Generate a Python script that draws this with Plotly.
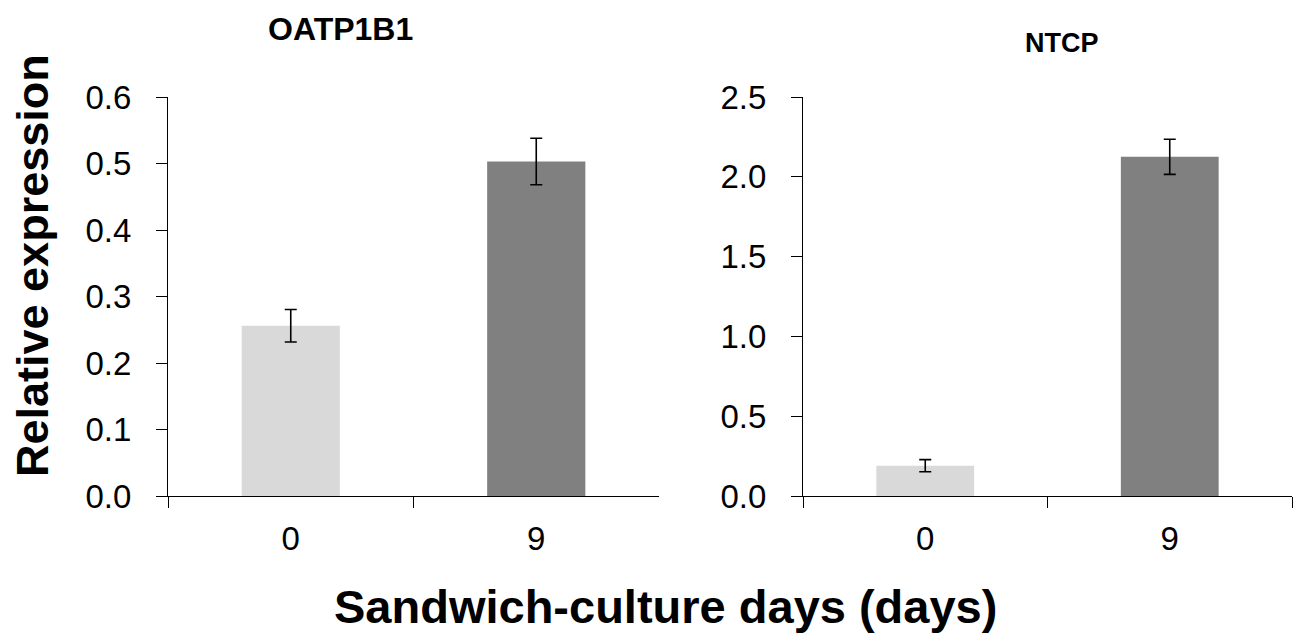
import plotly.graph_objects as go

categories = ["0", "9"]
oatp_values = [0.256, 0.503]
oatp_errors = [0.0245, 0.035]
ntcp_values = [0.19, 2.125]
ntcp_errors = [0.038, 0.11]
bar_colors = ["#d9d9d9", "#808080"]
oatp_ticks = [0.0, 0.1, 0.2, 0.3, 0.4, 0.5, 0.6]
ntcp_ticks = [0.0, 0.5, 1.0, 1.5, 2.0, 2.5]

W, H = 1303, 638
FONT = "Arial, Liberation Sans, sans-serif"

def px_x(x):
    return x / W

def px_y(y):
    return (H - y) / H

fig = go.Figure()
fig.add_trace(go.Bar(x=categories, y=oatp_values, marker=dict(color=bar_colors, line=dict(width=0)),
                     width=0.4, xaxis="x", yaxis="y",
                     error_y=dict(type="data", array=oatp_errors, color="black", thickness=1.6, width=6)))
fig.add_trace(go.Bar(x=categories, y=ntcp_values, marker=dict(color=bar_colors, line=dict(width=0)),
                     width=0.4, xaxis="x2", yaxis="y2",
                     error_y=dict(type="data", array=ntcp_errors, color="black", thickness=1.6, width=6)))

ydom = [px_y(496), px_y(97)]
common_x = dict(type="category", showline=True, linecolor="black", linewidth=1.3, ticks="outside",
                ticklen=11, tickcolor="black", tickwidth=1.3, tickson="boundaries", showgrid=False,
                zeroline=False, automargin=False,
                tickfont=dict(family=FONT, size=33, color="black"), ticklabelstandoff=13)
common_y = dict(showline=True, linecolor="black", linewidth=1.3, ticks="outside", ticklen=11,
                tickcolor="black", tickwidth=1.3, showgrid=False, zeroline=False, tickformat=".1f",
                automargin=False,
                tickfont=dict(family=FONT, size=33, color="black"), ticklabelstandoff=18)

fig.update_layout(
    template="none",
    width=W, height=H, margin=dict(l=0, r=0, t=0, b=0, autoexpand=False), showlegend=False,
    plot_bgcolor="white", paper_bgcolor="white", bargap=0.6,
    xaxis=dict(domain=[px_x(168), px_x(659)], anchor="y", **common_x),
    yaxis=dict(domain=ydom, anchor="x", range=[0, 0.6], tickvals=oatp_ticks, **common_y),
    xaxis2=dict(domain=[px_x(803), px_x(1292)], anchor="y2", **common_x),
    yaxis2=dict(domain=ydom, anchor="x2", range=[0, 2.5], tickvals=ntcp_ticks, **common_y),
)

annos = [
    dict(text="<b>OATP1B1</b>", x=px_x(340), y=px_y(29), size=32, angle=0),
    dict(text="<b>NTCP</b>", x=px_x(1062), y=px_y(43), size=27, angle=0),
    dict(text="<b>Relative expression</b>", x=px_x(33), y=px_y(266), size=45, angle=-90),
    dict(text="<b>Sandwich-culture days (days)</b>", x=px_x(665), y=px_y(606), size=47, angle=0),
]
for a in annos:
    fig.add_annotation(text=a["text"], x=a["x"], y=a["y"], xref="paper", yref="paper",
                       xanchor="center", yanchor="middle", showarrow=False, textangle=a["angle"],
                       font=dict(family=FONT, size=a["size"], color="black"))

fig.write_html("out.html", config={"displayModeBar": False},
               post_script="document.body.style.margin='0';document.body.style.padding='0';document.body.style.overflow='hidden';")
